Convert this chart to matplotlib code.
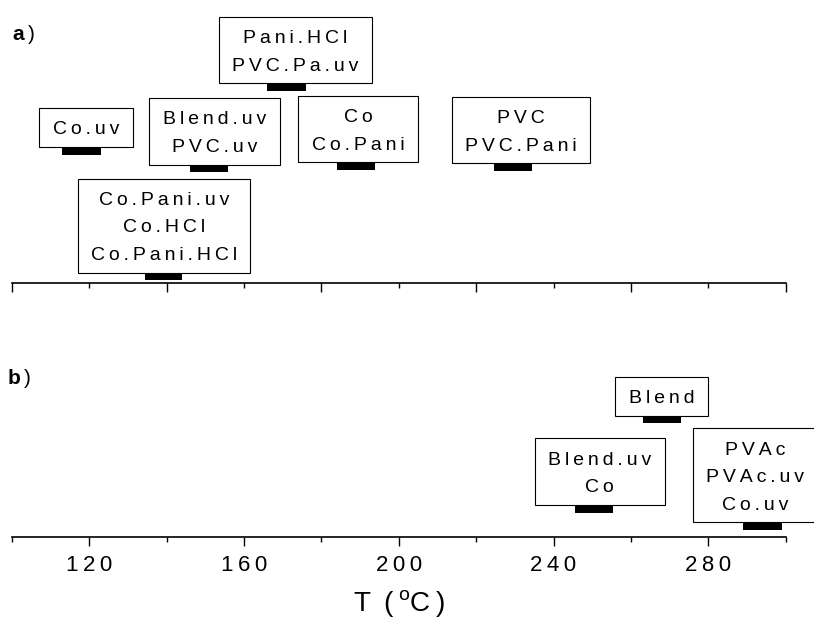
import matplotlib
matplotlib.use("Agg")
import matplotlib.pyplot as plt
from matplotlib.path import Path
from matplotlib.ticker import FixedLocator, FuncFormatter, NullFormatter

plt.rcParams['font.family'] = ['Liberation Sans', 'DejaVu Sans']
plt.rcParams['mathtext.fontset'] = 'custom'
plt.rcParams['mathtext.rm'] = 'Liberation Sans'
plt.rcParams['mathtext.it'] = 'Liberation Sans:italic'
plt.rcParams['mathtext.bf'] = 'Liberation Sans:bold'

# ---- data: temperature ranges (°C) of the thermal events ----
labels_a = ["Co.uv", "Blend.uv\nPVC.uv", "Co.Pani.uv\nCo.HCl\nCo.Pani.HCl",
            "Pani.HCl\nPVC.Pa.uv", "Co\nCo.Pani", "PVC\nPVC.Pani"]
t_start_a = [113.0, 146.0, 134.5, 166.0, 184.0, 224.5]
t_end_a = [123.0, 156.0, 144.0, 176.0, 194.0, 234.5]

labels_b = ["Blend", "Blend.uv\nCo", "PVAc\nPVAc.uv\nCo.uv"]
t_start_b = [263.0, 245.5, 289.0]
t_end_b = [273.0, 255.5, 299.0]

major_a = [100, 140, 180, 220, 260, 300]
minor_a = [120, 160, 200, 240, 280]
major_b = [120, 160, 200, 240, 280]
minor_b = [100, 140, 180, 220, 260, 300]

# ---- layout ----
# stacking height of each bar above its axis line (px)
levels_a = [131.9, 114.2, 6.4, 195.5, 116.5, 115.5]
levels_b = [117.5, 28.4, 11.0]
# horizontal shift of each label box relative to its bar (°C)
shift_a = [1.2, 1.4, 0.1, 2.3, 0.5, 2.1]
shift_b = [-0.1, 1.4, -1.9]

W, H = 814, 618
BAR_H = 7.5
FS = 14
THIN = "\u2009"


def spaced(s):
    return "\n".join(THIN.join(line) for line in s.split("\n"))


def label_box(x0, y0, width, height, mutation_size):
    px = 0.69 * mutation_size
    pt = 0.68 * mutation_size
    pb = 0.46 * mutation_size
    verts = [(x0 - px, y0 - pb), (x0 + width + px, y0 - pb),
             (x0 + width + px, y0 + height + pt), (x0 - px, y0 + height + pt),
             (x0 - px, y0 - pb)]
    return Path(verts, closed=True)


fig = plt.figure(figsize=(W / 100, H / 100), dpi=100)
x_left, x_right = 11.7, 785.7
ya_axis, ya_top = 282.7, 0.0
yb_axis, yb_top = 537.2, 300.0

ax_a = fig.add_axes([x_left / W, 1 - ya_axis / H, (x_right - x_left) / W, (ya_axis - ya_top) / H])
ax_b = fig.add_axes([x_left / W, 1 - yb_axis / H, (x_right - x_left) / W, (yb_axis - yb_top) / H])
ax_a.set_ylim(0, ya_axis - ya_top)
ax_b.set_ylim(0, yb_axis - yb_top)


def draw_panel(ax, labels, t0, t1, levels, shifts):
    widths = [b - a for a, b in zip(t0, t1)]
    ax.barh(levels, widths, left=t0, height=BAR_H, color='black', zorder=3)
    for lab, a, b, lev, sh in zip(labels, t0, t1, levels, shifts):
        cx = (a + b) / 2 + sh
        ax.annotate(spaced(lab), xy=(cx, lev + BAR_H / 2), xytext=(0, 0.46 * FS),
                    textcoords='offset points', ha='center', va='bottom',
                    fontsize=FS, linespacing=1.8, annotation_clip=False,
                    bbox=dict(boxstyle=label_box, fc='white', ec='black', lw=0.8),
                    zorder=2)


draw_panel(ax_a, labels_a, t_start_a, t_end_a, levels_a, shift_a)
draw_panel(ax_b, labels_b, t_start_b, t_end_b, levels_b, shift_b)

for ax in (ax_a, ax_b):
    ax.set_xlim(100, 300)
    ax.patch.set_visible(False)
    for side in ('top', 'left', 'right'):
        ax.spines[side].set_visible(False)
    ax.spines['bottom'].set_linewidth(1.2)
    ax.set_yticks([])
    ax.tick_params(axis='x', which='major', direction='out', length=6.8, width=1.0)
    ax.tick_params(axis='x', which='minor', direction='out', length=3.6, width=1.0)

ax_a.xaxis.set_major_locator(FixedLocator(major_a))
ax_a.xaxis.set_minor_locator(FixedLocator(minor_a))
ax_a.xaxis.set_major_formatter(NullFormatter())

ax_b.xaxis.set_major_locator(FixedLocator(major_b))
ax_b.xaxis.set_minor_locator(FixedLocator(minor_b))
ax_b.xaxis.set_major_formatter(FuncFormatter(lambda v, p: spaced(f"{v:.0f}")))
ax_b.tick_params(axis='x', which='major', labelsize=16, pad=6)
ax_b.set_xlabel("T " + THIN + "(" + THIN + "$^{\\mathrm{o}}$C" + THIN + ")", fontsize=20, labelpad=9)

fig.text(11.7 / W, 1 - 35 / H, "$\\mathbf{a}$" + THIN + ")", fontsize=15, ha='left', va='center')
fig.text(7.3 / W, 1 - 378 / H, "$\\mathbf{b}$" + THIN + ")", fontsize=15, ha='left', va='center')

fig.savefig("out.png", dpi=100)
